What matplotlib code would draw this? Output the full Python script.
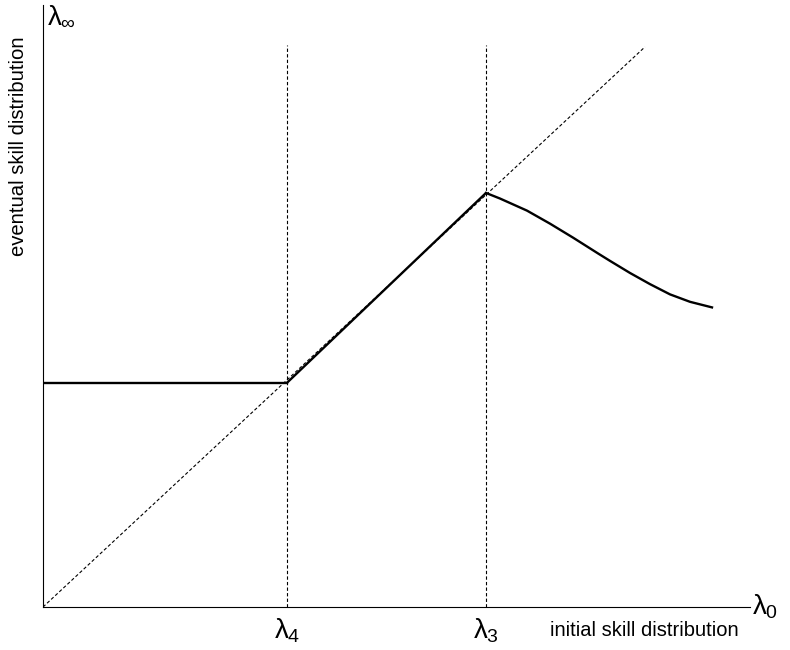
import matplotlib.pyplot as plt

plt.rcParams['font.family'] = ['Liberation Sans', 'DejaVu Sans']
plt.rcParams['mathtext.fontset'] = 'custom'
plt.rcParams['mathtext.rm'] = 'Liberation Sans'
plt.rcParams['mathtext.it'] = 'Liberation Sans'

# thresholds on the initial skill axis
lam4 = 2.44
lam3 = 4.43
diag_end = 6.02
top = 6.04

# eventual skill: flat, then identity, then falling curve
flat_x = [0.0, lam4]
flat_y = [2.41, 2.41]
rise_x = [lam4, lam3]
rise_y = [2.41, 4.45]
fall_x = [4.43, 4.57, 4.84, 5.07, 5.30, 5.55, 5.67, 5.87, 6.07, 6.27, 6.47, 6.69]
fall_y = [4.45, 4.39, 4.26, 4.12, 3.97, 3.80, 3.72, 3.59, 3.47, 3.36, 3.28, 3.22]

fig = plt.figure(figsize=(7.9, 6.5), dpi=100)
ax = fig.add_axes([43 / 790, 43 / 650, 707 / 790, 602 / 650])

ax.plot([0, diag_end], [0, diag_end], color='black', lw=0.8, ls=(0, (3, 2)))
ax.plot([lam4, lam4], [0, top], color='black', lw=0.8, ls=(0, (3, 2)))
ax.plot([lam3, lam3], [0, top], color='black', lw=0.8, ls=(0, (3, 2)))

ax.plot(flat_x, flat_y, color='black', lw=1.7)
ax.plot(rise_x, rise_y, color='black', lw=1.7, solid_capstyle='round')
ax.plot(fall_x, fall_y, color='black', lw=1.7, solid_joinstyle='round')

ax.set_xlim(0, 7.07)
ax.set_ylim(0, 6.47)
ax.spines['top'].set_visible(False)
ax.spines['right'].set_visible(False)
ax.set_xticks([])
ax.set_yticks([])

fs = 20
ax.text(lam4, -0.1, r'$\lambda_4$', ha='center', va='top', fontsize=fs)
ax.text(lam3, -0.1, r'$\lambda_3$', ha='center', va='top', fontsize=fs)
ax.text(7.09, 0.0, r'$\lambda_0$', ha='left', va='center', fontsize=fs)
fig.text(47 / 790, 1 - 3 / 650, r'$\lambda_\infty$', ha='left', va='top', fontsize=fs)
ax.text(5.07, -0.25, 'initial skill distribution', ha='left', va='center', fontsize=14.5)
fig.text(19 / 790, 1 - 146 / 650, 'eventual skill distribution', rotation=90,
         ha='center', va='center', fontsize=14.6)

fig.savefig('out.png', dpi=100)
